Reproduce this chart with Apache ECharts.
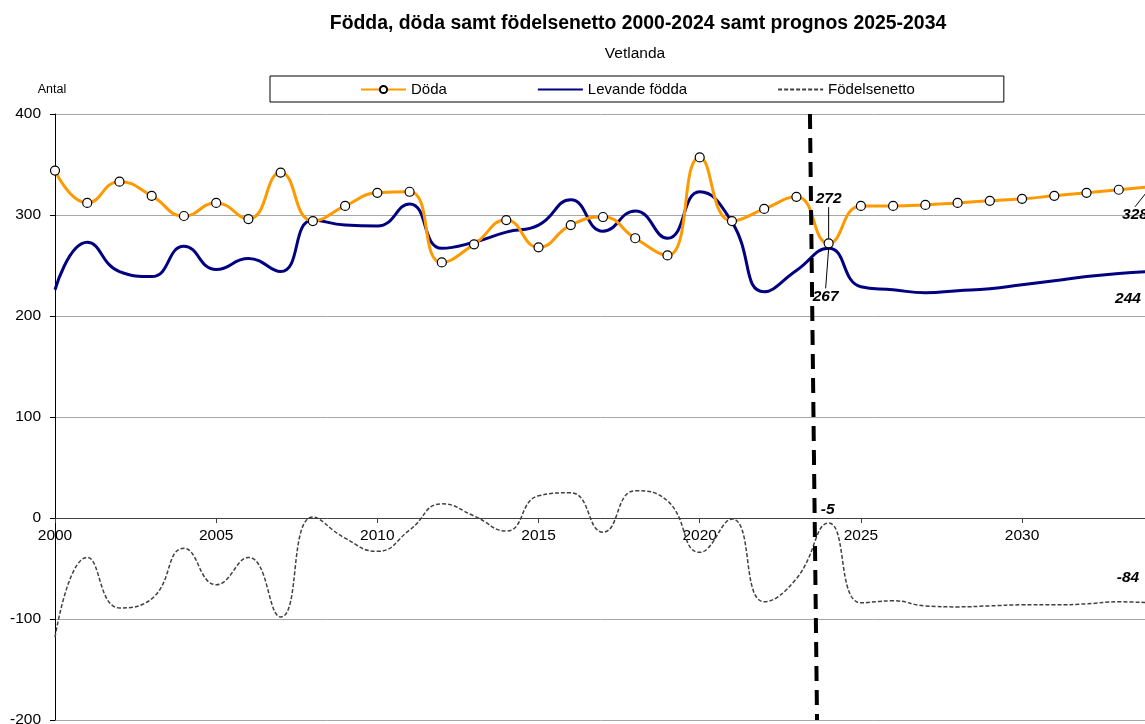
<!DOCTYPE html>
<html>
<head>
<meta charset="utf-8">
<script src="https://cdn.jsdelivr.net/npm/echarts@6/dist/echarts.min.js"></script>
<style>
  html, body { margin: 0; padding: 0; background: #fff; }
  #chart { width: 1145px; height: 724px; }
</style>
</head>
<body>
<div id="chart"></div>
<script>
// år 2000-2034 (prognos från 2025)
const years = [2000, 2001, 2002, 2003, 2004, 2005, 2006, 2007, 2008, 2009,
  2010, 2011, 2012, 2013, 2014, 2015, 2016, 2017, 2018, 2019,
  2020, 2021, 2022, 2023, 2024, 2025, 2026, 2027, 2028, 2029,
  2030, 2031, 2032, 2033, 2034];
const doda = [344, 312, 333, 319, 299, 312, 296, 342, 294, 309,
  322, 323, 253, 271, 295, 268, 290, 298, 277, 260,
  357, 294, 306, 318, 272, 309, 309, 310, 312, 314,
  316, 319, 322, 325, 328];
const fodda = [226, 273, 244, 239, 269, 246, 257, 244, 295, 290,
  289, 311, 267, 273, 283, 290, 315, 284, 304, 277,
  323, 293, 224, 245, 267, 229, 226, 223, 225, 227,
  231, 235, 239, 242, 244];
const netto = [-118, -39, -89, -80, -30, -66, -39, -98, 1, -20,
  -33, -12, 14, 2, -13, 22, 25, -14, 27, 17,
  -34, -1, -83, -60, -5, -84, -82, -87, -88, -87,
  -86, -86, -85, -83, -84];
// år med utskrivna värden
const labelYears = [2024, 2034];
// gräns mellan utfall och prognos (x-värde överst / nederst)
const splitTop = 2023.42, splitBottom = 2023.64;
const yMin = -200, yMax = 400;

const FONT = '"Liberation Sans", Arial, sans-serif';
const chart = echarts.init(document.getElementById('chart'));

const GRID_TOP = 114, GRID_BOTTOM = 4, H = 724;
// x-axeln ligger vid noll
const zeroOffset = -(0 - yMin) / (yMax - yMin) * (H - GRID_TOP - GRID_BOTTOM);

// hur etiketterna flyttas från sin punkt
const moves = {
  'Döda': { 2024: { dx: 0, dy: -26, line: true }, 2034: { dx: -16, dy: 10, line: true } },
  'Levande födda': { 2024: { dx: -3, dy: 35, line: true }, 2034: { dx: -23, dy: 14, line: false } },
  'Födelsenetto': { 2024: { dx: -1, dy: 0, line: false }, 2034: { dx: -23, dy: -12, line: false } }
};
const labelPos = { 'Döda': ['top', 'bottom'], 'Levande födda': ['bottom', 'bottom'], 'Födelsenetto': ['top', 'top'] };

function buildData(name, values) {
  return years.map(function (y, i) {
    const k = labelYears.indexOf(y);
    if (k < 0) return [y, values[i]];
    const m = moves[name][y];
    return {
      value: [y, values[i]],
      label: {
        show: true,
        position: labelPos[name][k],
        fontFamily: FONT, fontSize: 15.5, fontWeight: 'bold', fontStyle: 'italic', color: '#000'
      },
      labelLine: { show: m.line, lineStyle: { color: '#000', width: 1 } }
    };
  });
}

function layoutFor(name) {
  return function (p) {
    const m = moves[name][years[p.dataIndex]];
    return m ? { dx: m.dx, dy: m.dy, hideOverlap: false } : {};
  };
}

const option = {
  backgroundColor: '#fff',
  animation: false,
  title: [{
    text: 'Födda, döda samt födelsenetto 2000-2024 samt prognos 2025-2034',
    left: 633, top: 9, textAlign: 'center',
    textStyle: { fontFamily: FONT, fontSize: 19.4, fontWeight: 'bold', color: '#000' }
  }, {
    text: 'Vetlanda',
    left: 630, top: 41, textAlign: 'center',
    textStyle: { fontFamily: FONT, fontSize: 15.5, fontWeight: 'normal', color: '#000' }
  }],
  legend: {
    left: 270, top: 76,
    padding: [6, 89, 5, 90],
    itemGap: 90, itemWidth: 45, itemHeight: 9,
    borderColor: '#000', borderWidth: 1,
    textStyle: { fontFamily: FONT, fontSize: 15, color: '#000' },
    data: ['Döda', 'Levande födda', 'Födelsenetto']
  },
  grid: { left: 55, right: -6, top: GRID_TOP, bottom: GRID_BOTTOM, containLabel: false, outerBoundsMode: 'none' },
  xAxis: {
    type: 'value', min: 2000, max: 2034, interval: 5,
    position: 'bottom',
    offset: zeroOffset,
    axisLine: { onZero: false, lineStyle: { color: '#404040', width: 1 } },
    axisTick: { length: 5, lineStyle: { color: '#404040' } },
    axisLabel: {
      margin: 10, fontFamily: FONT, fontSize: 15.5, color: '#000',
      formatter: function (v) { return v % 5 === 0 ? String(v) : ''; }
    },
    splitLine: { show: false }
  },
  yAxis: {
    type: 'value', min: yMin, max: yMax, interval: 100,
    name: 'Antal', nameLocation: 'end', nameGap: 18,
    nameTextStyle: { fontFamily: FONT, fontSize: 12.5, color: '#000', padding: [0, 6, 0, 0] },
    axisLine: { show: true, lineStyle: { color: '#000', width: 1 } },
    axisTick: { show: true, length: 5, lineStyle: { color: '#000' } },
    axisLabel: { margin: 14, fontFamily: FONT, fontSize: 15.5, color: '#000' },
    splitLine: { lineStyle: { color: '#a6a6a6', width: 1 } }
  },
  series: [{
    name: 'Födelsenetto',
    type: 'line',
    smooth: 0.5,
    data: buildData('Födelsenetto', netto),
    symbol: 'circle', symbolSize: 0.1, showSymbol: true,
    itemStyle: { color: 'rgba(0,0,0,0)' },
    lineStyle: { color: '#404040', width: 1.5, type: [4, 2] },
    labelLayout: layoutFor('Födelsenetto'),
    z: 2
  }, {
    name: 'Levande födda',
    type: 'line',
    smooth: 0.5,
    data: buildData('Levande födda', fodda),
    symbol: 'circle', symbolSize: 0.1, showSymbol: true,
    itemStyle: { color: 'rgba(0,0,0,0)' },
    lineStyle: { color: '#000080', width: 3 },
    labelLayout: layoutFor('Levande födda'),
    z: 3
  }, {
    name: 'Döda',
    type: 'line',
    smooth: 0.5,
    data: buildData('Döda', doda),
    symbol: 'circle', symbolSize: 9, showSymbol: true,
    itemStyle: { color: '#fff', borderColor: '#000', borderWidth: 1.2 },
    lineStyle: { color: '#FF9900', width: 3 },
    labelLayout: layoutFor('Döda'),
    z: 4
  }, {
    name: 'gräns',
    type: 'line',
    data: [],
    z: 6,
    markLine: {
      silent: true,
      symbol: ['none', 'none'],
      label: { show: false },
      lineStyle: { color: '#000', width: 4, type: [15, 9] },
      data: [[{ coord: [splitTop, yMax] }, { coord: [splitBottom, yMin] }]]
    }
  }]
};

chart.setOption(option);
</script>
</body>
</html>
